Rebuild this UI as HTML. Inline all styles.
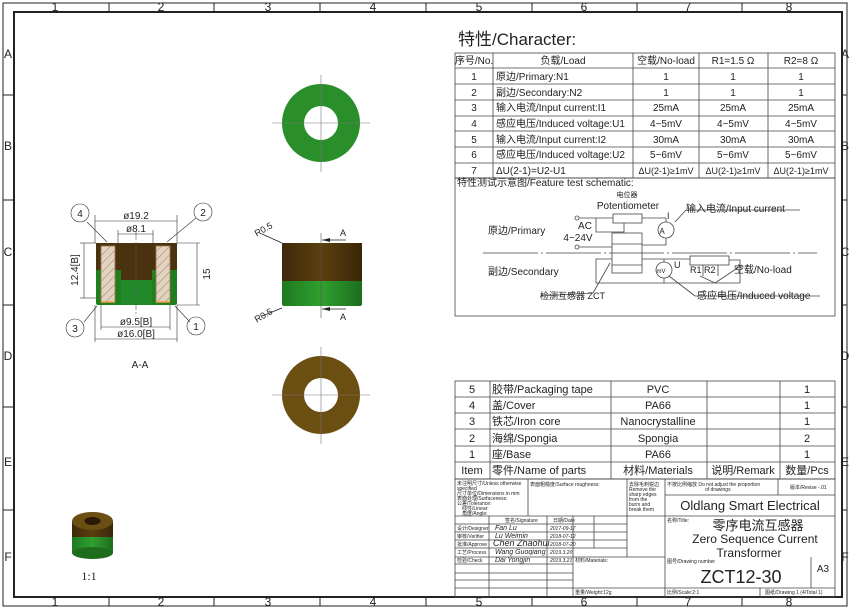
<!DOCTYPE html>
<html><head><meta charset="utf-8"><style>
html,body{margin:0;padding:0;background:#fff}
svg{display:block}
text{font-family:"Liberation Sans","Noto Sans CJK SC",sans-serif;fill:#222}
</style></head><body>
<svg width="850" height="610" viewBox="0 0 850 610" xmlns="http://www.w3.org/2000/svg">
<defs>
<pattern id="hat" width="6" height="6" patternUnits="userSpaceOnUse" patternTransform="rotate(45)"><rect width="6" height="6" fill="#e2d2c0"/><line x1="0" y1="0" x2="0" y2="6" stroke="#8a6a50" stroke-width="0.8"/></pattern>
<linearGradient id="br" x1="0" x2="1"><stop offset="0" stop-color="#3e2a0a"/><stop offset=".5" stop-color="#5a3f10"/><stop offset="1" stop-color="#3a2608"/></linearGradient>
<linearGradient id="gr" x1="0" x2="1"><stop offset="0" stop-color="#1f7a1f"/><stop offset=".5" stop-color="#2fa02f"/><stop offset="1" stop-color="#1d6d1d"/></linearGradient>
</defs>
<!-- frames -->
<rect x="3" y="3" width="844" height="603" fill="none" stroke="#222" stroke-width="1"/>
<rect x="14" y="12" width="828" height="585" fill="none" stroke="#222" stroke-width="2"/>
<g stroke="#222" stroke-width="1">
<line x1="109" y1="3" x2="109" y2="12"/><line x1="214" y1="3" x2="214" y2="12"/><line x1="320" y1="3" x2="320" y2="12"/><line x1="426" y1="3" x2="426" y2="12"/><line x1="532" y1="3" x2="532" y2="12"/><line x1="637" y1="3" x2="637" y2="12"/><line x1="742" y1="3" x2="742" y2="12"/>
<line x1="109" y1="597" x2="109" y2="606"/><line x1="214" y1="597" x2="214" y2="606"/><line x1="320" y1="597" x2="320" y2="606"/><line x1="426" y1="597" x2="426" y2="606"/><line x1="532" y1="597" x2="532" y2="606"/><line x1="637" y1="597" x2="637" y2="606"/><line x1="742" y1="597" x2="742" y2="606"/>
<line x1="3" y1="95" x2="14" y2="95"/><line x1="3" y1="200" x2="14" y2="200"/><line x1="3" y1="305" x2="14" y2="305"/><line x1="3" y1="407" x2="14" y2="407"/><line x1="3" y1="510" x2="14" y2="510"/>
<line x1="842" y1="95" x2="847" y2="95"/><line x1="842" y1="200" x2="847" y2="200"/><line x1="842" y1="305" x2="847" y2="305"/><line x1="842" y1="407" x2="847" y2="407"/><line x1="842" y1="510" x2="847" y2="510"/>
</g>
<g font-size="12" text-anchor="middle">
<text x="55" y="11">1</text><text x="161" y="11">2</text><text x="268" y="11">3</text><text x="373" y="11">4</text><text x="479" y="11">5</text><text x="584" y="11">6</text><text x="688" y="11">7</text><text x="789" y="11">8</text>
<text x="55" y="606">1</text><text x="161" y="606">2</text><text x="268" y="606">3</text><text x="373" y="606">4</text><text x="479" y="606">5</text><text x="584" y="606">6</text><text x="688" y="606">7</text><text x="789" y="606">8</text>
<text x="8" y="58">A</text><text x="8" y="150">B</text><text x="8" y="256">C</text><text x="8" y="360">D</text><text x="8" y="466">E</text><text x="8" y="561">F</text>
<text x="845" y="58">A</text><text x="845" y="150">B</text><text x="845" y="256">C</text><text x="845" y="360">D</text><text x="845" y="466">E</text><text x="845" y="561">F</text>
</g>

<!-- Section view -->
<g>
<rect x="96" y="243" width="81" height="62" rx="2" fill="#1f7f1f"/>
<rect x="96" y="243" width="81" height="27" fill="#4a3210"/>
<rect x="121" y="243" width="31" height="62" fill="#4a3210"/>
<rect x="121" y="280" width="31" height="25" fill="#21892a"/>
<rect x="101" y="246" width="14" height="56" fill="url(#hat)" stroke="#a0734a" stroke-width="0.8"/>
<rect x="156" y="246" width="14" height="56" fill="url(#hat)" stroke="#a0734a" stroke-width="0.8"/>
<line x1="101" y1="302" x2="115" y2="302" stroke="#f0a040" stroke-width="1.5"/>
<line x1="156" y1="302" x2="170" y2="302" stroke="#f0a040" stroke-width="1.5"/>
<line x1="136" y1="232" x2="136" y2="315" stroke="#555" stroke-width=".6" stroke-dasharray="8 2 2 2"/>
</g>
<g stroke="#333" stroke-width=".6" fill="none">
<line x1="95" y1="215" x2="95" y2="243"/><line x1="177" y1="215" x2="177" y2="243"/><line x1="95" y1="221" x2="177" y2="221"/>
<line x1="118" y1="230" x2="118" y2="243"/><line x1="153" y1="230" x2="153" y2="243"/><line x1="118" y1="234" x2="153" y2="234"/>
<line x1="177" y1="243" x2="200" y2="243"/><line x1="177" y1="305" x2="200" y2="305"/><line x1="197" y1="243" x2="197" y2="305"/>
<line x1="80" y1="243" x2="96" y2="243"/><line x1="80" y1="298" x2="96" y2="298"/><line x1="84" y1="243" x2="84" y2="298"/>
<line x1="101" y1="305" x2="101" y2="330"/><line x1="170" y1="305" x2="170" y2="330"/><line x1="101" y1="327" x2="170" y2="327"/>
<line x1="95" y1="305" x2="95" y2="342"/><line x1="177" y1="305" x2="177" y2="342"/><line x1="95" y1="339" x2="177" y2="339"/>
<line x1="107" y1="242" x2="87" y2="222"/><line x1="167" y1="242" x2="196" y2="218"/>
<line x1="97" y1="306" x2="84" y2="322"/><line x1="175" y1="306" x2="190" y2="322"/>
<circle cx="80" cy="213" r="9"/><circle cx="203" cy="212" r="9"/><circle cx="75" cy="328" r="9"/><circle cx="196" cy="326" r="9"/>
</g>
<g font-size="10" text-anchor="middle">
<text x="136" y="219">ø19.2</text><text x="136" y="232">ø8.1</text>
<text x="136" y="325">ø9.5[B]</text><text x="136" y="337">ø16.0[B]</text>
<text x="80" y="217">4</text><text x="203" y="216">2</text><text x="75" y="332">3</text><text x="196" y="330">1</text>
<text x="210" y="274" transform="rotate(-90 210 274)">15</text>
<text x="78" y="270" transform="rotate(-90 78 270)">12.4[B]</text>
<text x="140" y="368">A-A</text>
</g>

<!-- Side view -->
<rect x="282" y="243" width="80" height="63" rx="2" fill="url(#gr)"/>
<rect x="282" y="243" width="80" height="38" fill="url(#br)"/>
<line x1="321" y1="233" x2="321" y2="318" stroke="#555" stroke-width=".6"/>
<g stroke="#222" stroke-width=".8"><line x1="322" y1="240" x2="346" y2="240"/><line x1="322" y1="309" x2="346" y2="309"/>
<line x1="262" y1="234" x2="282" y2="243"/><line x1="262" y1="316" x2="282" y2="308"/></g>
<path d="M322 240 l8 -2 v4z M322 309 l8 -2 v4z" fill="#222"/>
<g font-size="9" text-anchor="middle"><text x="343" y="236">A</text><text x="343" y="320">A</text>
<text x="265" y="232" transform="rotate(-30 265 232)">R0.5</text><text x="265" y="318" transform="rotate(-30 265 318)">R0.5</text></g>

<!-- Top ring green -->
<circle cx="321" cy="123" r="39" fill="#2a8f2a"/><circle cx="321" cy="123" r="17" fill="#fff"/>
<g stroke="#777" stroke-width=".6"><line x1="272" y1="123" x2="370" y2="123"/><line x1="321" y1="75" x2="321" y2="172"/></g>
<!-- bottom ring brown -->
<circle cx="321" cy="395" r="39" fill="#6b4e12"/><circle cx="321" cy="395" r="17" fill="#fff"/>
<g stroke="#777" stroke-width=".6"><line x1="272" y1="395" x2="370" y2="395"/><line x1="321" y1="347" x2="321" y2="444"/></g>

<!-- 3D small -->
<rect x="72" y="521" width="41" height="32" fill="url(#br)"/>
<rect x="72" y="537" width="41" height="16" fill="url(#gr)"/>
<ellipse cx="92.5" cy="553" rx="20.5" ry="6" fill="#1d6d1d"/>
<ellipse cx="92.5" cy="521" rx="20.5" ry="9" fill="#6b4e12"/>
<ellipse cx="92.5" cy="521" rx="8" ry="4" fill="#2a1a05"/>
<text x="89" y="580" font-size="12" text-anchor="middle" style="font-family:'Liberation Serif',serif">1:1</text>

<!-- Character table -->
<text x="458" y="45" font-size="17">特性/Character:</text>
<g stroke="#444" stroke-width=".8" fill="none">
<rect x="455" y="53" width="380" height="125"/>
<line x1="455" y1="68" x2="835" y2="68"/><line x1="455" y1="84" x2="835" y2="84"/><line x1="455" y1="100" x2="835" y2="100"/><line x1="455" y1="116" x2="835" y2="116"/><line x1="455" y1="131" x2="835" y2="131"/><line x1="455" y1="147" x2="835" y2="147"/><line x1="455" y1="163" x2="835" y2="163"/>
<line x1="493" y1="53" x2="493" y2="178"/><line x1="633" y1="53" x2="633" y2="178"/><line x1="699" y1="53" x2="699" y2="178"/><line x1="768" y1="53" x2="768" y2="178"/>
<rect x="455" y="178" width="380" height="138"/>
</g>
<g font-size="10">
<g text-anchor="middle">
<text x="474" y="64">序号/No.</text><text x="563" y="64">负载/Load</text><text x="666" y="64">空载/No-load</text><text x="733" y="64">R1=1.5 Ω</text><text x="801" y="64">R2=8 Ω</text>
<text x="474" y="80">1</text><text x="666" y="80">1</text><text x="733" y="80">1</text><text x="801" y="80">1</text>
<text x="474" y="96">2</text><text x="666" y="96">1</text><text x="733" y="96">1</text><text x="801" y="96">1</text>
<text x="474" y="111">3</text><text x="666" y="111">25mA</text><text x="733" y="111">25mA</text><text x="801" y="111">25mA</text>
<text x="474" y="127">4</text><text x="666" y="127">4~5mV</text><text x="733" y="127">4~5mV</text><text x="801" y="127">4~5mV</text>
<text x="474" y="143">5</text><text x="666" y="143">30mA</text><text x="733" y="143">30mA</text><text x="801" y="143">30mA</text>
<text x="474" y="158">6</text><text x="666" y="158">5~6mV</text><text x="733" y="158">5~6mV</text><text x="801" y="158">5~6mV</text>
<text x="474" y="174">7</text><text x="666" y="174" font-size="9">ΔU(2-1)≥1mV</text><text x="733" y="174" font-size="9">ΔU(2-1)≥1mV</text><text x="801" y="174" font-size="9">ΔU(2-1)≥1mV</text>
</g>
<text x="496" y="80">原边/Primary:N1</text><text x="496" y="96">副边/Secondary:N2</text>
<text x="496" y="111">输入电流/Input current:I1</text><text x="496" y="127">感应电压/Induced voltage:U1</text>
<text x="496" y="143">输入电流/Input current:I2</text><text x="496" y="158">感应电压/Induced voltage:U2</text>
<text x="496" y="174">ΔU(2-1)=U2-U1</text>
<text x="457" y="186">特性测试示意图/Feature test schematic:</text>
</g>
<!-- schematic -->
<g stroke="#444" stroke-width=".8" fill="none">
<circle cx="577" cy="218" r="2"/><circle cx="577" cy="247" r="2"/>
<line x1="579" y1="218" x2="613" y2="218"/><line x1="579" y1="247" x2="612" y2="247"/>
<rect x="613" y="214" width="29" height="9"/><line x1="642" y1="218" x2="666" y2="218"/><line x1="666" y1="218" x2="666" y2="222"/>
<polyline points="596,218 596,232 624,232 624,223"/>
<circle cx="666" cy="230" r="8"/><polyline points="666,238 666,245 642,245"/>
<rect x="612" y="233" width="30" height="40"/><line x1="612" y1="244" x2="642" y2="244"/><line x1="612" y1="265" x2="642" y2="265"/>
<line x1="483" y1="253" x2="817" y2="253" stroke-dasharray="55 3 2 3"/>
<polyline points="612,259 596,259 596,283 740,283"/><line x1="642" y1="259" x2="690" y2="259"/>
<circle cx="664" cy="270" r="8"/><line x1="664" y1="259" x2="664" y2="262"/><line x1="664" y1="278" x2="664" y2="283"/>
<rect x="690" y="256" width="39" height="9"/><line x1="703" y1="265" x2="703" y2="276"/><line x1="718" y1="265" x2="718" y2="276"/>
<polyline points="729,260 740,260 740,283"/>
<line x1="715" y1="283" x2="700" y2="276"/><line x1="715" y1="283" x2="742" y2="265"/>
<line x1="610" y1="263" x2="593" y2="293"/><line x1="540" y1="296" x2="593" y2="293"/>
<line x1="675" y1="222" x2="686" y2="210"/><line x1="686" y1="210" x2="800" y2="210"/>
<line x1="669" y1="276" x2="695" y2="296"/><line x1="695" y1="296" x2="820" y2="296"/>
</g>
<g font-size="10">
<text x="627" y="197" font-size="7" text-anchor="middle">电位器</text>
<text x="628" y="209" text-anchor="middle">Potentiometer</text>
<text x="585" y="229" text-anchor="middle">AC</text><text x="578" y="241" text-anchor="middle">4~24V</text>
<text x="488" y="234">原边/Primary</text><text x="488" y="275">副边/Secondary</text>
<text x="540" y="299" font-size="9">检测互感器 ZCT</text>
<text x="667" y="219" font-size="9">I</text><text x="662" y="234" font-size="8" text-anchor="middle">A</text>
<text x="661" y="273" font-size="6" text-anchor="middle">mV</text><text x="674" y="268" font-size="9">U</text>
<text x="690" y="273" font-size="9">R1 R2</text>
<text x="686" y="212">输入电流/Input current</text>
<text x="734" y="273">空载/No-load</text>
<text x="697" y="299">感应电压/Induced voltage</text>
</g>

<!-- Parts table -->
<g stroke="#444" stroke-width=".8" fill="none">
<rect x="455" y="381" width="380" height="98"/>
<line x1="455" y1="397" x2="835" y2="397"/><line x1="455" y1="413" x2="835" y2="413"/><line x1="455" y1="429" x2="835" y2="429"/><line x1="455" y1="446" x2="835" y2="446"/><line x1="455" y1="462" x2="835" y2="462"/>
<line x1="490" y1="381" x2="490" y2="479"/><line x1="611" y1="381" x2="611" y2="479"/><line x1="707" y1="381" x2="707" y2="479"/><line x1="780" y1="381" x2="780" y2="479"/>
</g>
<g font-size="11">
<g text-anchor="middle">
<text x="472" y="393">5</text><text x="658" y="393">PVC</text><text x="807" y="393">1</text>
<text x="472" y="409">4</text><text x="658" y="409">PA66</text><text x="807" y="409">1</text>
<text x="472" y="425">3</text><text x="658" y="425">Nanocrystalline</text><text x="807" y="425">1</text>
<text x="472" y="442">2</text><text x="658" y="442">Spongia</text><text x="807" y="442">2</text>
<text x="472" y="458">1</text><text x="658" y="458">PA66</text><text x="807" y="458">1</text>
<text x="472" y="474">Item</text><text x="658" y="474">材料/Materials</text><text x="743" y="474">说明/Remark</text><text x="807" y="474">数量/Pcs</text>
</g>
<text x="492" y="393">胶带/Packaging tape</text><text x="492" y="409">盖/Cover</text><text x="492" y="425">铁芯/Iron core</text><text x="492" y="442">海绵/Spongia</text><text x="492" y="458">座/Base</text><text x="492" y="474">零件/Name of parts</text>
</g>

<!-- Title block -->
<g stroke="#444" stroke-width=".8" fill="none">
<rect x="455" y="479" width="380" height="118"/>
<line x1="455" y1="516" x2="665" y2="516"/>
<line x1="528" y1="479" x2="528" y2="516"/><line x1="627" y1="479" x2="627" y2="557"/><line x1="665" y1="479" x2="665" y2="597"/>
<line x1="455" y1="524" x2="627" y2="524"/><line x1="455" y1="532" x2="627" y2="532"/><line x1="455" y1="540" x2="627" y2="540"/><line x1="455" y1="548" x2="627" y2="548"/><line x1="455" y1="557" x2="665" y2="557"/>
<line x1="455" y1="564" x2="573" y2="564"/><line x1="455" y1="573" x2="573" y2="573"/><line x1="455" y1="580" x2="573" y2="580"/><line x1="455" y1="588" x2="835" y2="588"/>
<line x1="489" y1="516" x2="489" y2="597"/><line x1="547" y1="516" x2="547" y2="597"/><line x1="573" y1="516" x2="573" y2="597"/><line x1="594" y1="516" x2="594" y2="548"/>
<line x1="665" y1="495" x2="835" y2="495"/><line x1="665" y1="516" x2="835" y2="516"/><line x1="778" y1="479" x2="778" y2="495"/>
<line x1="811" y1="557" x2="811" y2="588"/><line x1="760" y1="588" x2="760" y2="597"/>
</g>
<g font-size="5" fill="#555">
<text x="457" y="485">未注明尺寸/Unless otherwise</text><text x="457" y="490">specified</text><text x="457" y="495">尺寸单位/Dimensions in mm</text><text x="457" y="500">表面处理/Surfaceness:</text><text x="457" y="505">公差/Tolerance:</text><text x="462" y="510">线性/Linear:</text><text x="462" y="515">角度/Angle:</text>
<text x="530" y="486">表面粗糙度/Surface roughness:</text>
<text x="629" y="486">去除毛刺锐边</text><text x="629" y="491">Remove the</text><text x="629" y="496">sharp edges</text><text x="629" y="501">from the</text><text x="629" y="506">burrs and</text><text x="629" y="511">break them</text>
<text x="667" y="486">不按比例缩放 Do not adjust the proportion</text><text x="705" y="491">of drawings</text>
<text x="790" y="489">版本/Revise  -.01</text>
<text x="505" y="522">签名/Signature</text><text x="553" y="522">日期/Date</text>
<text x="457" y="530">设计/Designer</text><text x="457" y="538">审核/Verifier</text><text x="457" y="546">批准/Approve</text><text x="457" y="554">工艺/Process</text><text x="457" y="562">检验/Check</text>
<text x="575" y="562">材料/Materials:</text><text x="575" y="594">重量/Weight:12g</text>
<text x="667" y="522">名称/Title:</text><text x="667" y="563">图号/Drawing number</text>
<text x="667" y="594">比例/Scale:2:1</text><text x="765" y="594">图纸/Drawing 1 (4/Total 1)</text>
</g>
<g font-size="7" font-style="italic" style="font-family:'Liberation Serif',serif">
<text x="495" y="530">Fan Lu</text><text x="495" y="538">Lu Weimin</text><text x="493" y="546" font-size="9">Chen Zhaohui</text><text x="495" y="554">Wang Guoqiang</text><text x="495" y="562">Dai Yongjin</text>
<text x="550" y="530" font-size="5">2017-09-17</text><text x="550" y="538" font-size="5">2018-07-12</text><text x="550" y="546" font-size="5">2018-07-20</text><text x="550" y="554" font-size="5">2019.3.20</text><text x="550" y="562" font-size="5">2019.3.21</text>
</g>
<text x="750" y="510" font-size="13" text-anchor="middle">Oldlang Smart Electrical</text>
<text x="758" y="530" font-size="13" text-anchor="middle">零序电流互感器</text>
<text x="755" y="543" font-size="12" text-anchor="middle">Zero Sequence Current</text>
<text x="749" y="557" font-size="12" text-anchor="middle">Transformer</text>
<text x="741" y="583" font-size="18" text-anchor="middle">ZCT12-30</text>
<text x="823" y="572" font-size="10" text-anchor="middle">A3</text>
</svg>
</body></html>
